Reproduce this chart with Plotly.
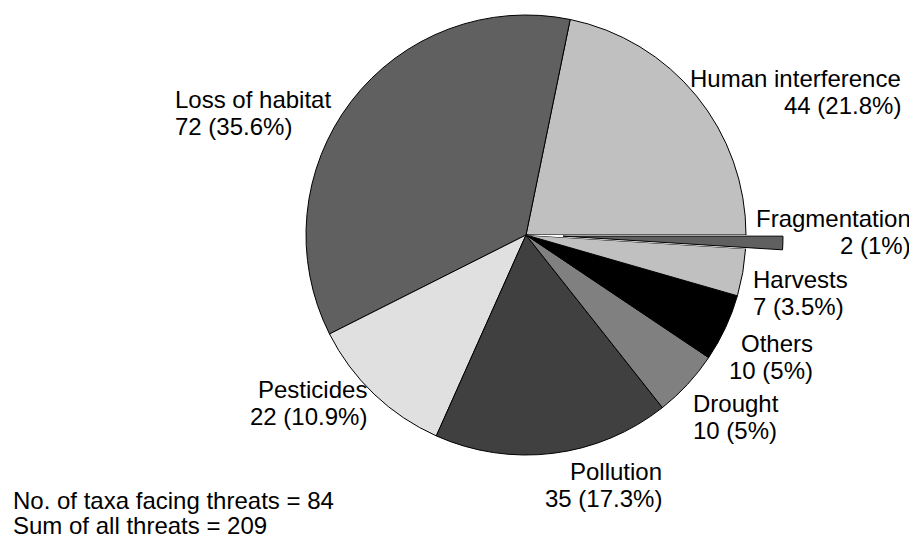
import math
import plotly.graph_objects as go

# ---- data ----
categories = ["Human interference", "Loss of habitat", "Pesticides", "Pollution",
              "Drought", "Others", "Harvests", "Fragmentation"]
values = [44, 72, 22, 35, 10, 10, 7, 2]
colors = ["#c0c0c0", "#606060", "#e0e0e0", "#404040",
          "#808080", "#000000", "#c0c0c0", "#606060"]
pulled = "Fragmentation"
footnote_lines = ["No. of taxa facing threats = 84", "Sum of all threats = 209"]

W, H = 917, 538
OX, OY = 8, 8          # page body margin offset in the browser
FONT = "Liberation Sans, Arial, sans-serif"
FS = 24

total = sum(values)


def pct(v):
    p = round(v / total * 100, 1)
    s = f"{p:.1f}"
    if s.endswith(".0"):
        s = s[:-2]
    return s + "%"


# pie geometry (reference pixels)
cx, cy, r = 526, 235, 220
pull_px = 37
# first slice spans from 3 o'clock counterclockwise
rotation = 90 - values[0] / total * 360
idx = categories.index(pulled)
start = sum(values[:idx]) / total * 360      # math angle, ccw from 3 o'clock
mid = start + values[idx] / total * 180
dx = pull_px * math.cos(math.radians(mid))
dy = -pull_px * math.sin(math.radians(mid))


def px_x(x):
    return (x - OX) / W


def px_y(y):
    return 1 - (y - OY) / H


def dom(cxp, cyp):
    return dict(x=[px_x(cxp - r), px_x(cxp + r)],
                y=[px_y(cyp + r), px_y(cyp - r)])


base_colors = [("white" if c == pulled else col) for c, col in zip(categories, colors)]
base_lw = [0 if c == pulled else 1 for c in categories]
top_colors = [(col if c == pulled else "rgba(0,0,0,0)") for c, col in zip(categories, colors)]
top_lw = [1 if c == pulled else 0 for c in categories]

fig = go.Figure()
fig.add_trace(go.Pie(
    labels=categories, values=values, sort=False, direction="counterclockwise",
    rotation=rotation, textinfo="none", hoverinfo="skip", showlegend=False,
    marker=dict(colors=base_colors, line=dict(color="black", width=base_lw)),
    domain=dom(cx, cy),
))
fig.add_trace(go.Pie(
    labels=categories, values=values, sort=False, direction="counterclockwise",
    rotation=rotation, textinfo="none", hoverinfo="skip", showlegend=False,
    marker=dict(colors=top_colors, line=dict(color="black", width=top_lw)),
    domain=dom(cx + dx, cy + dy),
))

# label layout: (x px, anchor, baseline of first line px)
label_pos = {
    "Human interference": (902, "right", 87),
    "Loss of habitat": (174, "left", 108),
    "Pesticides": (368, "right", 398),
    "Pollution": (663, "right", 480),
    "Drought": (692, "left", 412),
    "Others": (814, "right", 352),
    "Harvests": (752, "left", 288),
    "Fragmentation": (912, "right", 227),
}
LS = 26.5
OFF = 0.3465 * FS

annotations = []


def add_line(text, x, anchor, base):
    annotations.append(dict(
        text=text, x=px_x(x), y=px_y(base - OFF), xref="paper", yref="paper",
        xanchor=anchor, yanchor="middle", showarrow=False, borderpad=0,
        font=dict(family=FONT, size=FS, color="black"),
    ))


for c, v in zip(categories, values):
    x, a, b = label_pos[c]
    add_line(c, x, a, b)
    add_line(f"{v} ({pct(v)})", x, a, b + LS)

for i, t in enumerate(footnote_lines):
    add_line(t, 12, "left", 509 + i * 24.5)

fig.update_layout(
    width=W, height=H, margin=dict(l=0, r=0, t=0, b=0),
    paper_bgcolor="white", plot_bgcolor="white",
    annotations=annotations,
    font=dict(family=FONT, size=FS, color="black"),
)

fig.write_html("out.html")
